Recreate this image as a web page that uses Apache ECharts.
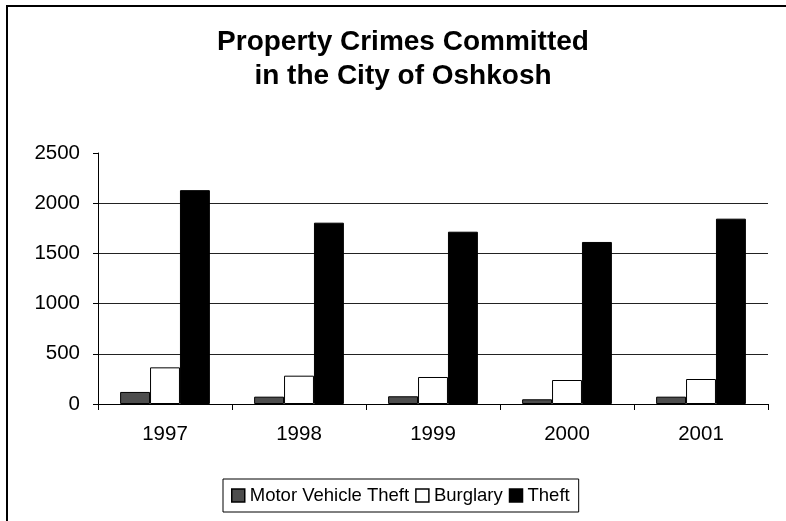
<!DOCTYPE html>
<html>
<head>
<meta charset="utf-8">
<script src="https://cdn.jsdelivr.net/npm/echarts@6/dist/echarts.min.js"></script>
<style>
html,body{margin:0;padding:0;background:#fff;}
#chart{width:786px;height:521px;}
</style>
</head>
<body>
<div id="chart"></div>
<script>
const categories = ['1997', '1998', '1999', '2000', '2001'];
const motorVehicleTheft = [120, 73, 77, 47, 73];
const burglary = [365, 282, 269, 239, 249];
const theft = [2130, 1806, 1716, 1614, 1846];
const seriesNames = ['Motor Vehicle Theft', 'Burglary', 'Theft'];
const titleText = 'Property Crimes Committed\nin the City of Oshkosh';

const FONT = "'Liberation Sans', Arial, sans-serif";
const chart = echarts.init(document.getElementById('chart'), null, {renderer: 'canvas'});

const barStyle = (color) => ({color: color, borderColor: '#000', borderWidth: 1});

chart.setOption({
  backgroundColor: '#fff',
  animation: false,
  title: {
    text: titleText,
    left: 398, top: 20,
    textAlign: 'center',
    textStyle: {fontFamily: FONT, fontSize: 28, fontWeight: 'bold', color: '#000', lineHeight: 34}
  },
  graphic: [{
    type: 'rect', silent: true, z: -1,
    shape: {x: 7, y: 6, width: 900, height: 900},
    style: {fill: 'none', stroke: '#000', lineWidth: 2}
  }],
  legend: {
    data: seriesNames,
    left: 223, top: 479,
    orient: 'horizontal',
    icon: 'rect',
    itemWidth: 13, itemHeight: 13,
    itemGap: 6,
    padding: [7, 9, 7, 8],
    borderColor: '#000', borderWidth: 1,
    textStyle: {fontFamily: FONT, fontSize: 18.5, color: '#000'},
    itemStyle: {borderColor: '#000', borderWidth: 1.5}
  },
  grid: {left: 98, right: 18, top: 153, bottom: 117, containLabel: false},
  xAxis: {
    type: 'category',
    data: categories,
    axisLine: {show: true, lineStyle: {color: '#000', width: 1}},
    axisTick: {show: true, length: 6, lineStyle: {color: '#000'}},
    axisLabel: {fontFamily: FONT, fontSize: 20.5, color: '#000', margin: 20}
  },
  yAxis: {
    type: 'value',
    min: 0, max: 2500, interval: 500,
    axisLine: {show: true, lineStyle: {color: '#000', width: 1}},
    axisTick: {show: true, length: 5, lineStyle: {color: '#000'}},
    axisLabel: {fontFamily: FONT, fontSize: 20.5, color: '#000', margin: 18, formatter: (v) => String(v)},
    splitLine: {show: true, lineStyle: {color: ['#000', '#222', '#222', '#222', '#222', 'rgba(0,0,0,0)'], width: 1}}
  },
  series: [
    {name: seriesNames[0], type: 'bar', data: motorVehicleTheft, barGap: '0%', barCategoryGap: '33%', itemStyle: barStyle('#4d4d4d')},
    {name: seriesNames[1], type: 'bar', data: burglary, barGap: '0%', barCategoryGap: '33%', itemStyle: barStyle('#ffffff')},
    {name: seriesNames[2], type: 'bar', data: theft, barGap: '0%', barCategoryGap: '33%', itemStyle: barStyle('#000000')}
  ]
});
</script>
</body>
</html>
